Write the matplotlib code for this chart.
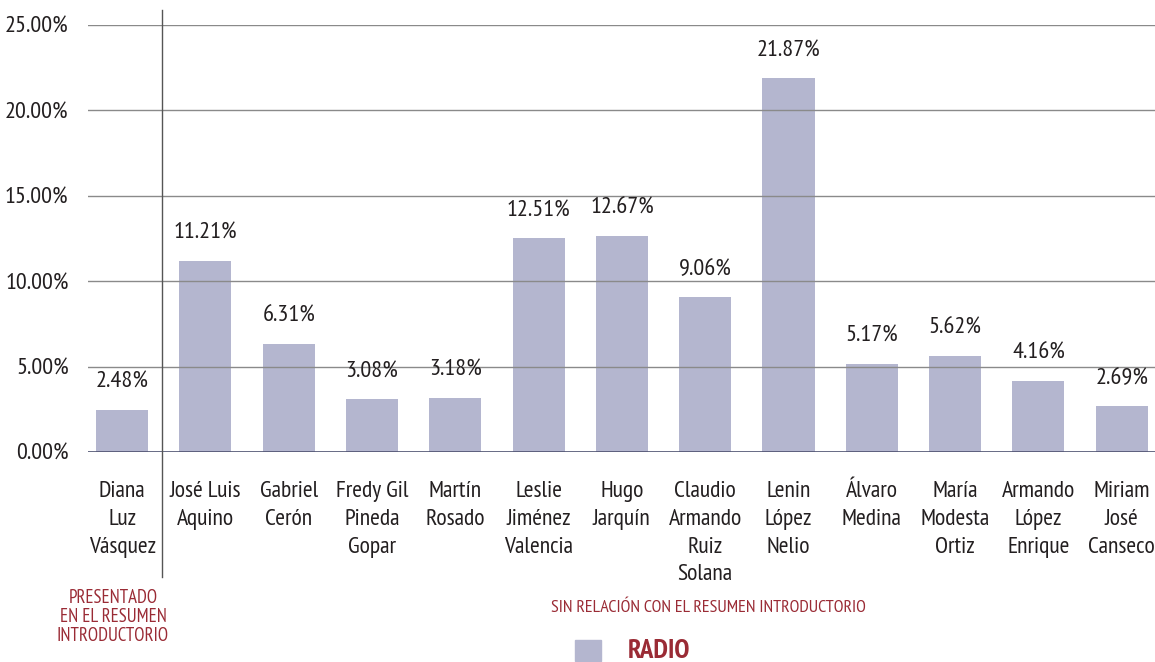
import matplotlib
matplotlib.use("Agg")
import matplotlib.pyplot as plt
from matplotlib.patches import Rectangle
from matplotlib.lines import Line2D
from matplotlib import font_manager

names = {f.name for f in font_manager.fontManager.ttflist}
candidates = ['PT Sans Narrow', 'Roboto Condensed', 'Fira Sans Condensed', 'Encode Sans Condensed',
              'Archivo Narrow', 'Asap Condensed', 'IBM Plex Sans Condensed', 'Open Sans Condensed',
              'Liberation Sans Narrow']
chosen = next((c for c in candidates if c in names), None)
stretch = 'normal'
if chosen is None:
    chosen = 'DejaVu Sans'
    stretch = 'condensed'
plt.rcParams['font.family'] = [chosen, 'DejaVu Sans']
plt.rcParams['font.stretch'] = stretch

categories = ["Diana\nLuz\nVásquez", "José Luis\nAquino", "Gabriel\nCerón",
              "Fredy Gil\nPineda\nGopar", "Martín\nRosado", "Leslie\nJiménez\nValencia",
              "Hugo\nJarquín", "Claudio\nArmando\nRuiz\nSolana", "Lenin\nLópez\nNelio",
              "Álvaro\nMedina", "María\nModesta\nOrtiz", "Armando\nLópez\nEnrique",
              "Miriam\nJosé\nCanseco"]
values = [2.48, 11.21, 6.31, 3.08, 3.18, 12.51, 12.67, 9.06, 21.87, 5.17, 5.62, 4.16, 2.69]
yticks = [0, 5, 10, 15, 20, 25]

bar_color = "#b4b6cf"
red = "#9a2b35"
txt = "#231f20"

W, H = 1155, 662
fig = plt.figure(figsize=(W / 100, H / 100), dpi=100)
ax = fig.add_axes([88 / W, 1 - 452 / H, (W - 88) / W, (452 - 25) / H])

x = list(range(len(values)))
ax.bar(x, values, width=0.625, color=bar_color, zorder=1)
for xi, v in zip(x, values):
    ax.text(xi, v + 1.0, f"{v:.2f}%", ha="center", va="bottom", fontsize=17.5, color=txt)

ax.set_xlim(-0.41, 12.4)
ax.set_ylim(0, 25)
ax.set_yticks(yticks)
ax.set_yticklabels([f"{t:.2f}%" for t in yticks], fontsize=17.5, color=txt)
for t in yticks[1:]:
    ax.axhline(t, color="#8a8a8a", lw=1.0, zorder=2)
ax.axhline(0, color="#4d5170", lw=1.2, zorder=2)
for s in ax.spines.values():
    s.set_visible(False)
ax.tick_params(axis="y", length=0, pad=14)
ax.set_xticks(x)
ax.set_xticklabels(categories, fontsize=17, color=txt, linespacing=1.42, va="top")
ax.tick_params(axis="x", length=0, pad=21)

# separator line
fig.add_artist(Line2D([162 / W, 162 / W], [1 - 10 / H, 1 - 577 / H], color="#555555", lw=1.0))

fig.text(113 / W, 1 - 617 / H, "PRESENTADO\nEN EL RESUMEN\nINTRODUCTORIO", ha="center", va="center",
         fontsize=13.5, color=red, linespacing=1.1)
fig.text(708 / W, 1 - 608 / H, "SIN RELACIÓN CON EL RESUMEN INTRODUCTORIO", ha="center", va="center",
         fontsize=13, color=red)
fig.add_artist(Rectangle((575 / W, 1 - 661 / H), 26 / W, 21 / H, color=bar_color, transform=fig.transFigure))
fig.text(628 / W, 1 - 651 / H, "RADIO", ha="left", va="center", fontsize=19.5, fontweight="bold", color=red)

fig.savefig("out.png", dpi=100)
